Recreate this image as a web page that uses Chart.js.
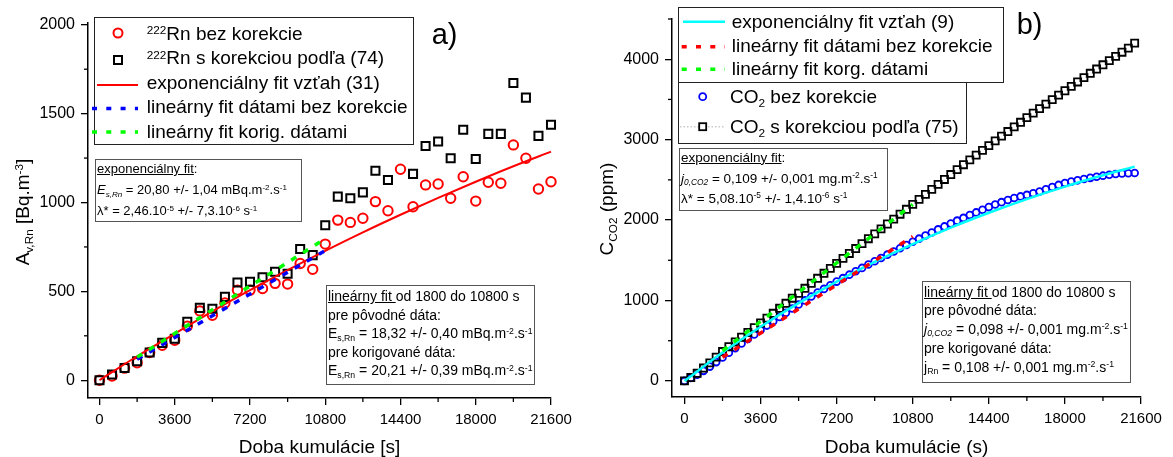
<!DOCTYPE html>
<html><head><meta charset="utf-8">
<script src="https://cdn.jsdelivr.net/npm/chart.js@4/dist/chart.umd.min.js"></script>
<style>
body{margin:0;background:#fff;width:1173px;height:457px;overflow:hidden;position:relative;font-family:"Liberation Sans",Arial,sans-serif;color:#000;}
canvas{position:absolute;top:0;}
#cA{left:0;} #cB{left:586px;}
.box{position:absolute;background:#fff;box-sizing:border-box;}
.lg{border:1.3px solid #222;}
.tb{border:1.3px solid #555;}
.t{position:absolute;white-space:nowrap;line-height:1;}
.t sup{font-size:0.62em;vertical-align:baseline;position:relative;top:-0.5em;line-height:0;}
.t sub{font-size:0.62em;vertical-align:baseline;position:relative;top:0.3em;line-height:0;}
.f19{font-size:19px;} .f14{font-size:14px;} .f13{font-size:13px;} .f135{font-size:13.5px;}
.rot{transform:translate(-50%,-50%) rotate(-90deg);transform-origin:center;}
#sym{position:absolute;left:0;top:0;}
</style>
</head><body>
<canvas id="cA" width="586" height="457"></canvas>
<canvas id="cB" width="587" height="457"></canvas>

<div class="box lg" style="left:94px;top:17px;width:320px;height:128px;"></div>
<div class="box tb" style="left:95px;top:159px;width:207px;height:63px;"></div>
<div class="box tb" style="left:326px;top:285px;width:209px;height:100px;"></div>
<div class="box lg" style="left:678px;top:7px;width:326px;height:76px;"></div>
<div class="box lg" style="left:678px;top:82px;width:289px;height:62px;"></div>
<div class="box tb" style="left:679px;top:148px;width:209px;height:63px;"></div>
<div class="box tb" style="left:922px;top:281px;width:209px;height:102px;"></div>

<svg id="sym" width="1173" height="457">
  <circle cx="118" cy="33" r="4.5" fill="none" stroke="#ff0000" stroke-width="2"/>
  <rect x="114" y="56" width="8" height="8" fill="none" stroke="#000" stroke-width="2"/>
  <line x1="97" y1="85" x2="138" y2="85" stroke="#ff0000" stroke-width="2"/>
  <line x1="92" y1="108.5" x2="138" y2="108.5" stroke="#0000ff" stroke-width="3.5" stroke-dasharray="5,9.3"/>
  <line x1="92" y1="132" x2="138" y2="132" stroke="#00ff00" stroke-width="3.5" stroke-dasharray="5,9.3"/>

  <line x1="683" y1="21.7" x2="725" y2="21.7" stroke="#00ffff" stroke-width="2.5"/>
  <line x1="681.7" y1="46.7" x2="725" y2="46.7" stroke="#ff0000" stroke-width="3.5" stroke-dasharray="5,9.3"/>
  <line x1="681.7" y1="69.3" x2="725" y2="69.3" stroke="#00ff00" stroke-width="3.5" stroke-dasharray="5,9.3"/>
  <circle cx="702.7" cy="96.7" r="3.5" fill="none" stroke="#0000ff" stroke-width="1.8"/>
  <line x1="680" y1="126.7" x2="725" y2="126.7" stroke="#ccc" stroke-width="1.5" stroke-dasharray="1.5,2"/>
  <rect x="699.2" y="123.2" width="7" height="7" fill="#fff" stroke="#000" stroke-width="1.8"/>
</svg>

<!-- left legend -->
<div class="t f19" style="left:146.7px;top:23.9px;"><sup>222</sup>Rn bez korekcie</div>
<div class="t f19" style="left:146.7px;top:48.4px;"><sup>222</sup>Rn s korekciou podľa (74)</div>
<div class="t f19" style="left:146.7px;top:72.9px;">exponenciálny fit vzťah (31)</div>
<div class="t f19" style="left:146.7px;top:97.4px;">lineárny fit dátami bez korekcie</div>
<div class="t f19" style="left:146.7px;top:121.9px;">lineárny fit korig. dátami</div>

<!-- left exp box -->
<div class="t f13" style="left:97px;top:162.3px;"><u>exponenciálny fit</u>:</div>
<div class="t f13" style="left:97px;top:183.3px;"><i>E<sub>s,Rn</sub></i> = 20,80 +/- 1,04 mBq.m<sup>-2</sup>.s<sup>-1</sup></div>
<div class="t f13" style="left:97px;top:204px;">λ* = 2,46.10<sup>-5</sup> +/- 7,3.10<sup>-6</sup> s<sup>-1</sup></div>

<!-- left linear box -->
<div class="t f14" style="left:328px;top:289.2px;"><u>lineárny fit </u>od 1800 do 10800 s</div>
<div class="t f14" style="left:328px;top:307.7px;">pre pôvodné dáta:</div>
<div class="t f14" style="left:328px;top:326.2px;">E<sub>s,Rn</sub> = 18,32 +/- 0,40 mBq.m<sup>-2</sup>.s<sup>-1</sup></div>
<div class="t f14" style="left:328px;top:344.7px;">pre korigované dáta:</div>
<div class="t f14" style="left:328px;top:363.2px;">E<sub>s,Rn</sub> = 20,21 +/- 0,39 mBq.m<sup>-2</sup>.s<sup>-1</sup></div>

<!-- right legend -->
<div class="t f19" style="left:731.7px;top:12.2px;">exponenciálny fit vzťah (9)</div>
<div class="t f19" style="left:731.7px;top:35.6px;">lineárny fit dátami bez korekcie</div>
<div class="t f19" style="left:731.7px;top:58.9px;">lineárny fit korg. dátami</div>
<div class="t f19" style="left:730px;top:87.2px;">CO<sub>2</sub> bez korekcie</div>
<div class="t f19" style="left:730px;top:117.2px;">CO<sub>2</sub> s korekciou podľa (75)</div>

<!-- right exp box -->
<div class="t f135" style="left:681px;top:150.6px;"><u>exponenciálny fit</u>:</div>
<div class="t f135" style="left:681px;top:171.6px;"><i>j<sub>0,CO2</sub></i> = 0,109 +/- 0,001 mg.m<sup>-2</sup>.s<sup>-1</sup></div>
<div class="t f135" style="left:681px;top:191.6px;">λ* = 5,08.10<sup>-5</sup> +/- 1,4.10<sup>-6</sup> s<sup>-1</sup></div>

<!-- right linear box -->
<div class="t f14" style="left:924px;top:284.7px;"><u>lineárny fit </u>od 1800 do 10800 s</div>
<div class="t f14" style="left:924px;top:303.2px;">pre pôvodné dáta:</div>
<div class="t f14" style="left:924px;top:321.7px;"><i>j<sub>0,CO2</sub></i> = 0,098 +/- 0,001 mg.m<sup>-2</sup>.s<sup>-1</sup></div>
<div class="t f14" style="left:924px;top:340.7px;">pre korigované dáta:</div>
<div class="t f14" style="left:924px;top:359.7px;">j<sub>Rn</sub> = 0,108 +/- 0,001 mg.m<sup>-2</sup>.s<sup>-1</sup></div>

<!-- panel labels -->
<div class="t" style="font-size:29px;left:431.7px;top:19.6px;">a)</div>
<div class="t" style="font-size:29px;left:1016.7px;top:10px;">b)</div>

<!-- axis titles -->
<div class="t f19" style="left:319.5px;top:436.5px;transform:translateX(-50%);">Doba kumulácie [s]</div>
<div class="t f19" style="left:906.5px;top:436.5px;transform:translateX(-50%);">Doba kumulácie (s)</div>
<div class="t f19 rot" style="left:22px;top:212px;">A<sub>v,Rn</sub> [Bq.m<sup>-3</sup>]</div>
<div class="t f19 rot" style="left:606px;top:209px;">C<sub>CO2</sub> (ppm)</div>

<script>
// ---------- DATA ----------
// Panel a) 222Rn
const rnTime = [0,600,1200,1800,2400,3000,3600,4200,4800,5400,6000,6600,7200,7800,8400,9000,9600,10200,10800,
  11400,12000,12600,13200,13800,14400,15000,15600,16200,16800,17400,18000,18600,19200,19800,20400,21000,21600];
const rnRaw = [0,24,68,98,156,197,225,304,390,366,435,507,507,516,545,541,657,624,766,
  901,888,911,1005,954,1187,976,1099,1104,1024,1145,1008,1114,1108,1324,1249,1076,1117];
const rnCorr = [0,32,69,107,156,210,233,329,407,402,469,550,554,579,610,599,738,704,872,
  1033,1024,1057,1179,1127,null,1161,1318,1343,1249,1409,1245,1386,1386,1672,1590,1375,1437];
const rnExpFitTime = [0,1800,3600,5400,7200,9000,10800,12600,14400,16200,18000,19800,21600];
const rnExpFit = [0,135,262,388,507,620,728,832,931,1026,1117,1204,1286];
const linFitTime = [1800,10800];
const rnLinRaw = [118,730];
const rnLinCorr = [130,796];

// Panel b) CO2
const co2Time = [0,300,600,900,1200,1500,1800,2100,2400,2700,3000,3300,3600,3900,4200,4500,4800,5100,5400,5700,6000,6300,6600,6900,
  7200,7500,7800,8100,8400,8700,9000,9300,9600,9900,10200,10500,10800,11100,11400,11700,12000,12300,12600,12900,13200,13500,13800,14100,
  14400,14700,15000,15300,15600,15900,16200,16500,16800,17100,17400,17700,18000,18300,18600,18900,19200,19500,19800,20100,20400,20700,21000,21300];
const co2Raw = [0,36,76,125,178,234,292,350,408,465,522,577,634,688,743,796,848,900,951,1001,1050,1098,1144,1190,
  1235,1278,1321,1364,1405,1447,1488,1529,1570,1610,1650,1690,1730,1769,1808,1846,1884,1921,1958,1993,2027,2062,2095,2129,
  2161,2193,2223,2250,2274,2294,2313,2333,2356,2384,2412,2437,2460,2478,2494,2510,2525,2539,2552,2563,2573,2580,2583,2585];
const co2Corr = [0,42,95,160,225,295,365,425,484,543,602,661,720,780,841,903,965,1028,1090,1152,1214,1276,1338,1400,
  1462,1524,1585,1646,1707,1768,1829,1890,1951,2012,2073,2134,2195,2258,2320,2382,2444,2505,2566,2627,2688,2748,2808,2867,
  2926,2985,3043,3101,3159,3216,3273,3330,3386,3442,3498,3553,3608,3663,3717,3771,3825,3878,3931,3983,4035,4087,4138,4200];
const co2ExpFitTime = [0,1800,3600,5400,7200,9000,10800,12600,14400,16200,18000,19800,21300];
const co2ExpFit = [0,352,674,967,1235,1479,1702,1906,2091,2261,2416,2557,2665];
const co2LinRaw = [295,1796];
const co2LinCorr = [375,2195];

// Tick labels
const xTicks = [0,3600,7200,10800,14400,18000,21600];
const xMinor = [1800,5400,9000,12600,16200,19800];
const yTicksA = [0,500,1000,1500,2000];
const yMinorA = [250,750,1250,1750];
const yTicksB = [0,1000,2000,3000,4000];
const yMinorB = [500,1500,2500,3500,4500];

// ---------- helpers ----------
const FONT = '"Liberation Sans", Arial, sans-serif';
const pts = (xs, ys) => xs.map((x, i) => ({x, y: ys[i]}));

const minorTicks = {
  id: 'minorTicks',
  afterDraw(chart, args, o) {
    const ctx = chart.ctx, xs = chart.scales.x, ys = chart.scales.y;
    ctx.save();
    ctx.strokeStyle = '#000'; ctx.lineWidth = 1.3;
    o.x.forEach(v => { const p = xs.getPixelForValue(v); ctx.beginPath(); ctx.moveTo(p, xs.top); ctx.lineTo(p, xs.top + o.len); ctx.stroke(); });
    o.y.forEach(v => { const p = ys.getPixelForValue(v); ctx.beginPath(); ctx.moveTo(ys.right, p); ctx.lineTo(ys.right - o.len, p); ctx.stroke(); });
    ctx.restore();
  }
};

function makeChart(id, datasets, c) {
  return new Chart(document.getElementById(id), {
    type: 'scatter',
    data: { datasets },
    options: {
      responsive: false, animation: false, events: [],
      layout: { padding: c.padding },
      plugins: { legend: {display: false}, tooltip: {enabled: false}, minorTicks: {x: c.xMinor, y: c.yMinor, len: 4} },
      scales: {
        x: {
          type: 'linear', min: c.xMin, max: c.xMax,
          afterBuildTicks: s => { s.ticks = c.xTicks.map(v => ({value: v})); },
          afterFit: s => { s.height = c.xHeight; },
          grid: {display: true, drawOnChartArea: false, drawTicks: true, tickLength: 7, color: '#000', lineWidth: 1.3},
          border: {display: true, color: '#000', width: 1.5},
          ticks: {color: '#000', font: {family: FONT, size: 15}, padding: 6, maxRotation: 0, autoSkip: false, callback: v => String(v)}
        },
        y: {
          type: 'linear', min: c.yMin, max: c.yMax,
          afterBuildTicks: s => { s.ticks = c.yTicks.map(v => ({value: v})); },
          afterFit: s => { s.width = c.yWidth; },
          grid: {display: true, drawOnChartArea: false, drawTicks: true, tickLength: 7, color: '#000', lineWidth: 1.3},
          border: {display: true, color: '#000', width: 1.5},
          ticks: {color: '#000', font: {family: FONT, size: 16}, padding: 6, autoSkip: false, callback: v => String(v)}
        }
      }
    },
    plugins: [minorTicks]
  });
}

const lineDs = (data, color, width, dash, order, smooth) => ({
  data, showLine: true, pointRadius: 0, borderColor: color, borderWidth: width,
  borderDash: dash, backgroundColor: color, order, clip: false,
  cubicInterpolationMode: smooth ? 'monotone' : 'default', tension: smooth ? 0.4 : 0
});
const markDs = (data, color, style, r, bw, order) => ({
  data, showLine: false, pointStyle: style, pointRadius: r, borderColor: color, pointBorderWidth: bw,
  borderWidth: bw, backgroundColor: 'rgba(0,0,0,0)', order, clip: false
});

makeChart('cA', [
  lineDs(pts(linFitTime, rnLinCorr), '#00ff00', 3.5, [6, 8], 1, false),
  lineDs(pts(linFitTime, rnLinRaw), '#0000ff', 3.5, [6, 8], 2, false),
  lineDs(pts(rnExpFitTime, rnExpFit), '#ff0000', 2, [], 3, true),
  markDs(pts(rnTime, rnCorr), '#000000', 'rect', 5.7, 2, 4),
  markDs(pts(rnTime, rnRaw), '#ff0000', 'circle', 4.7, 2, 5)
], {padding: {left: 0, top: 23, right: 35, bottom: 0}, xMin: -550, xMax: 21600, yMin: -100, yMax: 2010,
    xTicks, xMinor, yTicks: yTicksA, yMinor: yMinorA, xHeight: 59, yWidth: 88});

makeChart('cB', [
  lineDs(pts(linFitTime, co2LinCorr), '#00ff00', 3.5, [6, 8], 1, false),
  lineDs(pts(linFitTime, co2LinRaw), '#ff0000', 3.5, [6, 8], 2, false),
  lineDs(pts(co2ExpFitTime, co2ExpFit), '#00ffff', 2.5, [], 3, true),
  markDs(pts(co2Time, co2Corr), '#000000', 'rect', 5, 1.8, 4),
  markDs(pts(co2Time, co2Raw), '#0000ff', 'circle', 3.4, 1.8, 5)
], {padding: {left: 0, top: 19, right: 32, bottom: 0}, xMin: -590, xMax: 21600, yMin: -200, yMax: 4500,
    xTicks, xMinor, yTicks: yTicksB, yMinor: yMinorB, xHeight: 60, yWidth: 86});
</script>
</body></html>
